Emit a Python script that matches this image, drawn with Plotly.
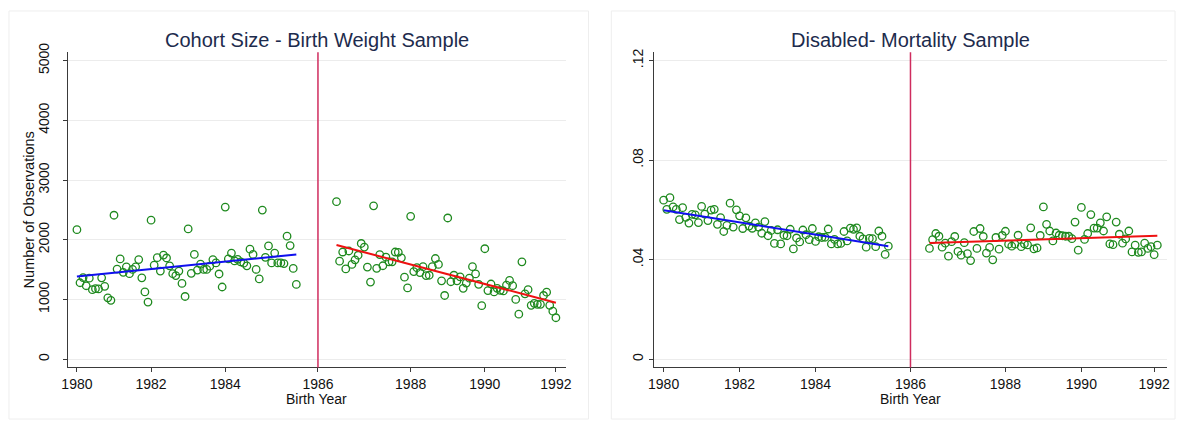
import numpy as np
import plotly.graph_objects as go

# ---------------- data ----------------
# x = birth month index (0 = Jan 1980); gap around the 1986 cutoff
MONTHS_PRE = list(range(0, 72))
MONTHS_POST_BW = list(range(84, 156))
MONTHS_POST_DIS = list(range(84, 157))
CUTOFF_MONTH = 78

X_TICK_MONTHS = [0, 24, 48, 78, 108, 132, 155]
X_TICK_LABELS = ["1980", "1982", "1984", "1986", "1988", "1990", "1992"]

BW_Y_TICKS = [0, 1000, 2000, 3000, 4000, 5000]
BW_Y_LABELS = ["0", "1000", "2000", "3000", "4000", "5000"]
DIS_Y_TICKS = [0, 0.04, 0.08, 0.12]
DIS_Y_LABELS = ["0", ".04", ".08", ".12"]

# Cohort size - birth weight sample
BW_PRE = [2169, 1279, 1366, 1229, 1355, 1164, 1180, 1175, 1361, 1219, 1027, 984,
          2410, 1508, 1678, 1454, 1546, 1432, 1503, 1546, 1667, 1361, 1126, 956,
          2328, 1574, 1699, 1475, 1743, 1694, 1563, 1432, 1399, 1475, 1268, 1049,
          2180, 1437, 1754, 1492, 1590, 1503, 1503, 1557, 1667, 1612, 1426, 1208,
          2546, 1678, 1776, 1645, 1672, 1628, 1607, 1563, 1841, 1754, 1503, 1344,
          2497, 1705, 1896, 1612, 1776, 1612, 1612, 1601, 2060, 1902, 1519, 1251]
BW_POST = [2638, 1641, 1794, 1510, 1811, 1586, 1663, 1740, 1937, 1877, 1542, 1290,
           2567, 1521, 1751, 1564, 1707, 1630, 1630, 1794, 1789, 1696, 1373, 1192,
           2392, 1466, 1531, 1449, 1548, 1400, 1405, 1548, 1685, 1586, 1312, 1066,
           2364, 1296, 1405, 1312, 1378, 1186, 1274, 1356, 1548, 1427, 1252, 896,
           1849, 1148, 1258, 1126, 1186, 1153, 1142, 1241, 1318, 1230, 1000, 753,
           1630, 1093, 1164, 901, 934, 918, 918, 1066, 1121, 901, 803, 693]

# Disabled - mortality sample
DIS_PRE = [0.0639, 0.0602, 0.0649, 0.0612, 0.0602, 0.0561, 0.0609, 0.0570, 0.0547, 0.0582, 0.0580, 0.0549,
           0.0614, 0.0583, 0.0557, 0.0599, 0.0602, 0.0542, 0.0569, 0.0513, 0.0538, 0.0627, 0.0531, 0.0600,
           0.0576, 0.0525, 0.0568, 0.0535, 0.0526, 0.0548, 0.0531, 0.0506, 0.0553, 0.0496, 0.0517, 0.0465,
           0.0520, 0.0463, 0.0498, 0.0496, 0.0522, 0.0443, 0.0487, 0.0471, 0.0519, 0.0500, 0.0480, 0.0525,
           0.0473, 0.0492, 0.0489, 0.0490, 0.0523, 0.0463, 0.0481, 0.0463, 0.0465, 0.0513, 0.0475, 0.0527,
           0.0522, 0.0528, 0.0494, 0.0483, 0.0450, 0.0485, 0.0484, 0.0452, 0.0515, 0.0494, 0.0421, 0.0454]
DIS_POST = [0.0445, 0.0480, 0.0505, 0.0494, 0.0450, 0.0466, 0.0414, 0.0472, 0.0493, 0.0433, 0.0418, 0.0468,
            0.0424, 0.0396, 0.0513, 0.0445, 0.0525, 0.0493, 0.0426, 0.0449, 0.0399, 0.0489, 0.0442, 0.0497,
            0.0514, 0.0462, 0.0454, 0.0462, 0.0498, 0.0452, 0.0463, 0.0459, 0.0528, 0.0443, 0.0447, 0.0497,
            0.0612, 0.0542, 0.0515, 0.0475, 0.0507, 0.0498, 0.0496, 0.0494, 0.0494, 0.0484, 0.0551, 0.0438,
            0.0610, 0.0481, 0.0505, 0.0581, 0.0527, 0.0527, 0.0548, 0.0515, 0.0572, 0.0463, 0.0460, 0.0551,
            0.0502, 0.0466, 0.0483, 0.0515, 0.0431, 0.0458, 0.0429, 0.0431, 0.0466, 0.0445, 0.0452, 0.0420,
            0.0458]

TITLES = ["Cohort Size - Birth Weight Sample", "Disabled- Mortality Sample"]

# ---------------- styling ----------------
W, H = 1183, 421
FONT = "Liberation Sans, Arial, Helvetica, sans-serif"
GREEN = "#1f8a1f"
BLUE = "#1010ee"
RED = "#ee1111"
CUT = "#cf2c5e"
AXIS = "#3a3a3a"
GRID = "#ececec"
TITLE_COL = "#1d2b4d"


def px(xp):
    return xp / W


def py(yp):
    return 1 - yp / H


fig = go.Figure()

panels = [
    dict(xa="x", ya="y", pre=BW_PRE, post=BW_POST, mpost=MONTHS_POST_BW),
    dict(xa="x2", ya="y2", pre=DIS_PRE, post=DIS_POST, mpost=MONTHS_POST_DIS),
]

for p in panels:
    for mx, vals, col in [(MONTHS_PRE, p["pre"], BLUE), (p["mpost"], p["post"], RED)]:
        fig.add_trace(go.Scatter(
            x=mx, y=vals, mode="markers", xaxis=p["xa"], yaxis=p["ya"],
            marker=dict(symbol="circle-open", size=7.5, color=GREEN, line=dict(width=1.3, color=GREEN)),
            showlegend=False, hoverinfo="skip"))
        b, a = np.polyfit(mx, vals, 1)
        xs = [min(mx), max(mx)]
        fig.add_trace(go.Scatter(
            x=xs, y=[a + b * v for v in xs], mode="lines", xaxis=p["xa"], yaxis=p["ya"],
            line=dict(color=col, width=2), showlegend=False, hoverinfo="skip"))

x_common = dict(
    tickmode="array", tickvals=X_TICK_MONTHS, ticktext=X_TICK_LABELS,
    showgrid=False, zeroline=False, showline=True, linecolor=AXIS, linewidth=1,
    ticks="outside", ticklen=4, tickcolor=AXIS,
    tickfont=dict(family=FONT, size=14, color="#111"),
)
y_common = dict(
    showgrid=True, gridcolor=GRID, gridwidth=1, zeroline=False,
    showline=True, linecolor=AXIS, linewidth=1,
    ticks="outside", ticklen=4, tickcolor=AXIS, tickangle=-90,
    tickfont=dict(family=FONT, size=14, color="#111"),
)

yb0, yb1 = py(366.3), py(44.2)
fig.update_layout(
    width=W, height=H, margin=dict(l=0, r=0, t=0, b=0),
    paper_bgcolor="white", plot_bgcolor="white",
    xaxis=dict(domain=[px(61.7), px(565)], range=[-2.88, 158.2], anchor="y", **x_common),
    yaxis=dict(domain=[yb0, yb1], range=[-140, 5140], anchor="x", ticklabelstandoff=8,
               tickmode="array", tickvals=BW_Y_TICKS, ticktext=BW_Y_LABELS, **y_common),
    xaxis2=dict(domain=[px(654), px(1172.7)], range=[-3.1, 159.0], anchor="y2", **x_common),
    yaxis2=dict(domain=[yb0, yb1], range=[-0.00336, 0.12336], anchor="x2",
                tickmode="array", tickvals=DIS_Y_TICKS, ticktext=DIS_Y_LABELS, **y_common),
)

shapes = []
for xa, ya in [("x", "y"), ("x2", "y2")]:
    shapes.append(dict(type="line", xref=xa, yref=f"{ya} domain", x0=CUTOFF_MONTH, x1=CUTOFF_MONTH,
                       y0=0, y1=1, line=dict(color=CUT, width=1.5)))
# faint panel frames
shapes.append(dict(type="rect", xref="paper", yref="paper", x0=px(2), x1=px(588), y0=py(419), y1=py(2),
                   line=dict(color="#eeeeee", width=1)))
shapes.append(dict(type="rect", xref="paper", yref="paper", x0=px(611), x1=px(1181), y0=py(419), y1=py(2),
                   line=dict(color="#eeeeee", width=1)))
fig.update_layout(shapes=shapes)

ann = []
for cx, t in [(313.4, TITLES[0]), (913.3, TITLES[1])]:
    ann.append(dict(text=t, x=px(cx), y=py(32), xref="paper", yref="paper", showarrow=False,
                    xanchor="center", yanchor="middle", font=dict(family=FONT, size=20, color=TITLE_COL)))
    ann.append(dict(text="Birth Year", x=px(cx), y=py(399), xref="paper", yref="paper", showarrow=False,
                    xanchor="center", yanchor="middle", font=dict(family=FONT, size=14, color="#111")))
ann.append(dict(text="Number of Observations", x=px(22), y=py(205), xref="paper", yref="paper",
                showarrow=False, textangle=-90, xanchor="center", yanchor="middle",
                font=dict(family=FONT, size=14.5, color="#111")))
fig.update_layout(annotations=ann)

fig.write_html("out.html")
